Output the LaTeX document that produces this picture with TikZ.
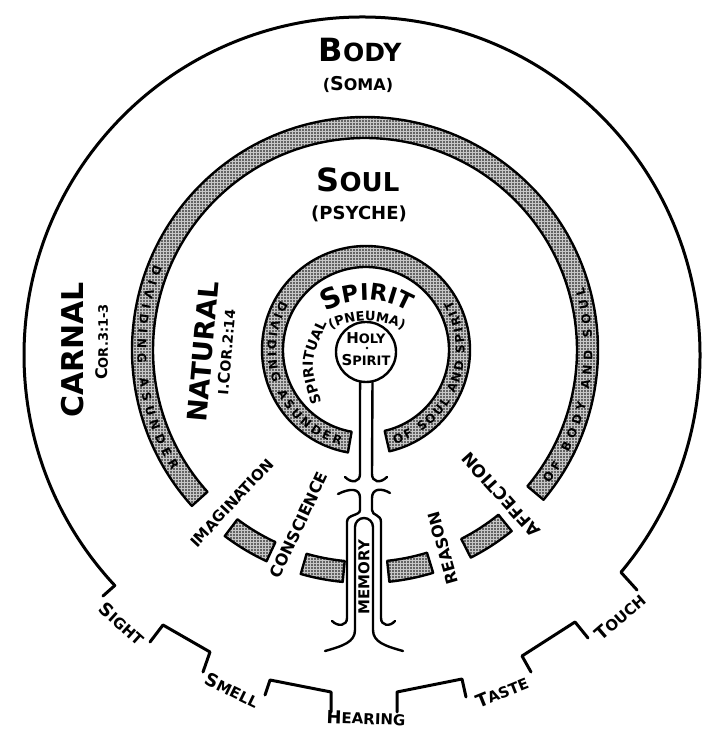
\documentclass[tikz,border=0pt]{standalone}
\usepackage{fontspec}
\setmainfont{DejaVu Sans}
\usetikzlibrary{patterns.meta, decorations.text}

\newcommand{\letragrande}[2]{{\fontsize{#1pt}{#1pt}\selectfont #2}}
\newcommand{\anillo}{\bfseries\fontsize{12pt}{12pt}\selectfont}

\begin{document}
\begin{tikzpicture}[x=1pt, y=1pt,
    % Definición global de estilos
    rotulo/.style = {font=\bfseries\fontsize{#1pt}{#1pt}\selectfont, inner sep=0pt},
    contorno/.style = {line width=3pt, line join=round, line cap=round},
    banda/.style = {draw=black, line width=2.4pt, line join=round, preaction={fill=black!22}, pattern={Dots[radius=0.9pt, distance=3pt]}},
    tubo/.style = {line width=2.4pt, line cap=round},
    texto_anillo/.style = {decorate, decoration={text along path, text align=fit to path, text={|\anillo|#1}}}
]
\useasboundingbox (0,0) rectangle (714,730);

% ===============================
% 1. Cuerpo y Sentidos
% ===============================
\coordinate (ctr) at (362,375);
\draw[contorno] (637,140) -- ([shift={(-40:338)}]ctr) arc[start angle=-40, end angle=223, radius=338] -- (103,134);
\draw[contorno] (150,88) -- (163,105) -- (210,78) -- (203,58);
\draw[contorno] (265,35) -- (270,50) -- (331,38) -- (331,18);
\draw[contorno] (397,18) -- (397,38) -- (462,51) -- (466,33);
\draw[contorno] (531,58) -- (522,74) -- (575,108) -- (588,92);

\node (body) [rotulo=25] at (360,680) {\letragrande{32}{B}ODY};
\node (soma) [rotulo=16] at (358,645) {(\letragrande{19}{S}OMA)};
\node (carnal) [rotulo=30, rotate=90] at (73,380) {CARNAL};
\node (cor3) [rotulo=13, rotate=90] at (102,388) {\letragrande{16}{C}OR.3:1-3};

\node (sight) [rotulo=15, rotate=-42] at (122,106) {\letragrande{18}{S}IGHT};
\node (smell) [rotulo=15, rotate=-26] at (232,40) {\letragrande{18}{S}MELL};
\node (hearing) [rotulo=15, rotate=-2] at (366,12) {\letragrande{18}{H}EARING};
\node (taste) [rotulo=15, rotate=22] at (502,38) {\letragrande{18}{T}ASTE};
\node (touch) [rotulo=15, rotate=41] at (620,113) {\letragrande{18}{T}OUCH};

% ===============================
% 2. Alma
% ===============================
\coordinate (csoul) at (365,380);
\draw[banda] ([shift={(-40:233)}]csoul) arc[start angle=-40, end angle=222, radius=233] -- ([shift={(222:212)}]csoul) arc[start angle=222, end angle=-40, radius=212] -- cycle;
\draw[banda] ([shift={(233:233)}]csoul) arc[start angle=233, end angle=245, radius=233] -- ([shift={(245:212)}]csoul) arc[start angle=245, end angle=233, radius=212] -- cycle;
\draw[banda] ([shift={(254:233)}]csoul) arc[start angle=254, end angle=264.5, radius=233] -- ([shift={(264.5:212)}]csoul) arc[start angle=264.5, end angle=254, radius=212] -- cycle;
\draw[banda] ([shift={(276:233)}]csoul) arc[start angle=276, end angle=287, radius=233] -- ([shift={(287:212)}]csoul) arc[start angle=287, end angle=276, radius=212] -- cycle;
\draw[banda] ([shift={(297:233)}]csoul) arc[start angle=297, end angle=309, radius=233] -- ([shift={(309:212)}]csoul) arc[start angle=309, end angle=297, radius=212] -- cycle;

\path[texto_anillo={DIVIDING ASUNDER}] ([shift={(158:227.5)}]csoul) arc[start angle=158, end angle=212, radius=227.5];
\path[texto_anillo={OF BODY AND SOUL}] ([shift={(-36:227.5)}]csoul) arc[start angle=-36, end angle=16, radius=227.5];

\node (soul) [rotulo=26] at (358,550) {\letragrande{32}{S}OUL};
\node (psyche) [rotulo=18] at (359,516) {(PSYCHE)};
\node (natural) [rotulo=27, rotate=85] at (203,378) {NATURAL};
\node (cor2) [rotulo=14, rotate=85] at (226,378) {I.\letragrande{16}{C}OR.2:14};

\node (imag) [rotulo=15, rotate=47] at (232,227) {IMAGINATION};
\node (consc) [rotulo=16, rotate=65] at (299,205) {CONSCIENCE};
\node (reason) [rotulo=16, rotate=106] at (443,182) {REASON};
\node (affec) [rotulo=17, rotate=132] at (501,235) {AFFECTION};

% ===============================
% 3. Espíritu
% ===============================
\coordinate (cspi) at (366,380);
\draw[banda] ([shift={(-77:104)}]cspi) arc[start angle=-77, end angle=260, radius=104] -- ([shift={(260:83)}]cspi) arc[start angle=260, end angle=-77, radius=83] -- cycle;

\path[texto_anillo={DIVIDING ASUNDER}] ([shift={(150:98.5)}]cspi) arc[start angle=150, end angle=255, radius=98.5];
\path[texto_anillo={OF SOUL AND SPIRIT}] ([shift={(287:98.5)}]cspi) arc[start angle=287, end angle=390, radius=98.5];

\coordinate (arcspi) at (367,350);
\coordinate (arcpne) at (367,329);
\path[decorate, decoration={text along path, text align=center, text={|\bfseries\fontsize{28pt}{28pt}\selectfont|S|\bfseries\fontsize{23pt}{23pt}\selectfont|PIRIT}}] ([shift={(130:80)}]arcspi) arc[start angle=130, end angle=50, radius=80];
\path[decorate, decoration={text along path, text align=center, text={|\bfseries\fontsize{13pt}{13pt}\selectfont|(PNEUMA)}}] ([shift={(130:80)}]arcpne) arc[start angle=130, end angle=50, radius=80];
\path[decorate, decoration={text along path, text align=center, text={|\bfseries\fontsize{14pt}{14pt}\selectfont|SPIRITUAL}}] (322,326) .. controls (309,368) .. (328,408);

% Espíritu Santo y conducto
\node (hs) [circle, draw, line width=2.4pt, minimum size=60pt, inner sep=0pt, fill=white] at (366,378) {};
\node (holy) [rotulo=13] at (366,392) {\letragrande{15}{H}OLY};
\node (hspirit) [rotulo=13] at (366,370) {\letragrande{15}{S}PIRIT};
\fill (367,382) circle (1.3);

\draw[tubo] (hs.-101.5) -- (360,256) .. controls (360,248) and (352,246) .. (345,253);
\draw[tubo] (hs.-78.5) -- (372,256) .. controls (372,248) and (380,246) .. (387,253);
\draw[tubo] (338,236) .. controls (350,242) and (360,242) .. (360,232) -- (360,220) .. controls (360,214) and (347,216) .. (347,208) -- (347,112) .. controls (347,104) and (338,103) .. (332,109);
\draw[tubo] (390,237) .. controls (382,242) and (372,242) .. (372,232) -- (372,220) .. controls (372,214) and (381,216) .. (381,208) -- (381,112) .. controls (381,104) and (390,103) .. (395,109);
\draw[tubo] (325,79) .. controls (343,84) and (355,88) .. (355,100) -- (355,203) arc[start angle=180, end angle=0, radius=9] -- (373,100) .. controls (373,88) and (385,84) .. (403,79);
\node (memory) [rotulo=15, rotate=90] at (364,153) {MEMORY};

\end{tikzpicture}
\end{document}
